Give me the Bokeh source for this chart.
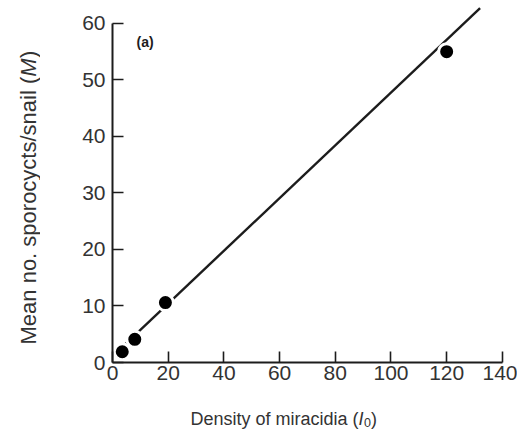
from bokeh.plotting import figure
from bokeh.models import Range1d, FixedTicker
from bokeh.layouts import row, column
from bokeh.core.properties import value
from bokeh.embed import file_html
from bokeh.resources import INLINE

# Observed sporocyst burden against miracidial density
density = [3.5, 8, 19, 120]
mean_sporocysts = [1.9, 4.1, 10.6, 55]

# Fitted straight line (end points)
fit_x = [1.5, 132]
fit_y = [1.8, 62.7]

x_ticks = [0, 20, 40, 60, 80, 100, 120, 140]
y_ticks = [0, 10, 20, 30, 40, 50, 60]

W, H = 517, 429
YLAB_W = 40          # strip holding the rotated y title
XLAB_H = 34          # strip holding the x title
MAIN_W, MAIN_H = W - YLAB_W, H - XLAB_H
LEFT, RIGHT, TOP = 72, 4, 6
AXIS_Y = 362         # page row of the x axis
BOTTOM = MAIN_H - AXIS_Y
X_END, Y_END = 144, 63

FONT = value("Liberation Sans")
TEXT = "#333333"
INK = "#1c1c1c"

p = figure(width=MAIN_W, height=MAIN_H, output_backend="svg", toolbar_location=None,
           x_range=Range1d(0, X_END), y_range=Range1d(0, Y_END),
           min_border_left=LEFT, min_border_right=RIGHT,
           min_border_top=TOP, min_border_bottom=BOTTOM)
p.outline_line_color = None
p.grid.visible = False

for ax, ticks, bounds in ((p.xaxis[0], x_ticks, (0, 140)), (p.yaxis[0], y_ticks, (0, 60))):
    ax.ticker = FixedTicker(ticks=ticks)
    ax.bounds = bounds
    ax.axis_label = None
    ax.axis_line_color = INK
    ax.axis_line_width = 2
    ax.major_tick_line_color = INK
    ax.major_tick_line_width = 1.6
    ax.major_tick_in = 11
    ax.major_tick_out = 0
    ax.minor_tick_line_color = None
    ax.major_label_text_font = "Liberation Sans"
    ax.major_label_text_font_size = "21px"
    ax.major_label_text_color = TEXT
p.xaxis.major_label_standoff = 3
p.yaxis.major_label_standoff = 7

p.line(fit_x, fit_y, line_color=INK, line_width=2.4)
p.scatter(density, mean_sporocysts, size=16, fill_color="black",
          line_color="white", line_width=3)

# panel tag, positioned in page pixels
frame_left = YLAB_W + LEFT
frame_right = W - RIGHT
fw = frame_right - frame_left
fh = AXIS_Y - TOP
def dx(px):
    return (px - frame_left) * X_END / fw
def dy(py):
    return (AXIS_Y - py) * Y_END / fh

p.text(x=[dx(136)], y=[dy(41)], text=["(a)"], text_font=FONT,
       text_font_size="14px", text_font_style="bold", text_color=INK,
       text_baseline="alphabetic")


def text_strip(width, height, x_range, y_range):
    f = figure(width=width, height=height, output_backend="svg", toolbar_location=None,
               x_range=Range1d(*x_range), y_range=Range1d(*y_range),
               x_axis_type=None, y_axis_type=None, min_border=0)
    f.outline_line_color = None
    f.grid.visible = False
    return f


# x title: "Density of miracidia (I0)" with italic I and subscript 0.
# The strip's frame lines up with the main frame, so its x range spans
# the same page columns.
xt = text_strip(MAIN_W, XLAB_H, (frame_left, frame_right), (0, XLAB_H))
base = H - 418
common = dict(text_font=FONT, text_color=TEXT, text_baseline="alphabetic")
xt.text(x=[190], y=[base], text=["Density of miracidia ("], text_font_size="18px", **common)
xt.text(x=[358], y=[base], text=["I"], text_font_size="18px", text_font_style="italic", **common)
xt.text(x=[363.5], y=[base - 4], text=["0"], text_font_size="12.5px", **common)
xt.text(x=[370.5], y=[base], text=[")"], text_font_size="18px", **common)

# y title: "Mean no. sporocycts/snail (M)" with italic M, reading upward
yt = text_strip(YLAB_W, H, (0, YLAB_W), (0, H))
rot = dict(angle=90, angle_units="deg", text_font_size="22px", **common)
yt.text(x=[28], y=[H - 344], text=["Mean no. sporocycts/snail ("], **rot)
yt.text(x=[28], y=[H - 76.2], text=["M"], text_font_style="italic", **rot)
yt.text(x=[28], y=[H - 57.4], text=[")"], **rot)

layout = row(yt, column(p, xt, spacing=0), spacing=0)
open("out.html", "w").write(file_html(layout, INLINE))
